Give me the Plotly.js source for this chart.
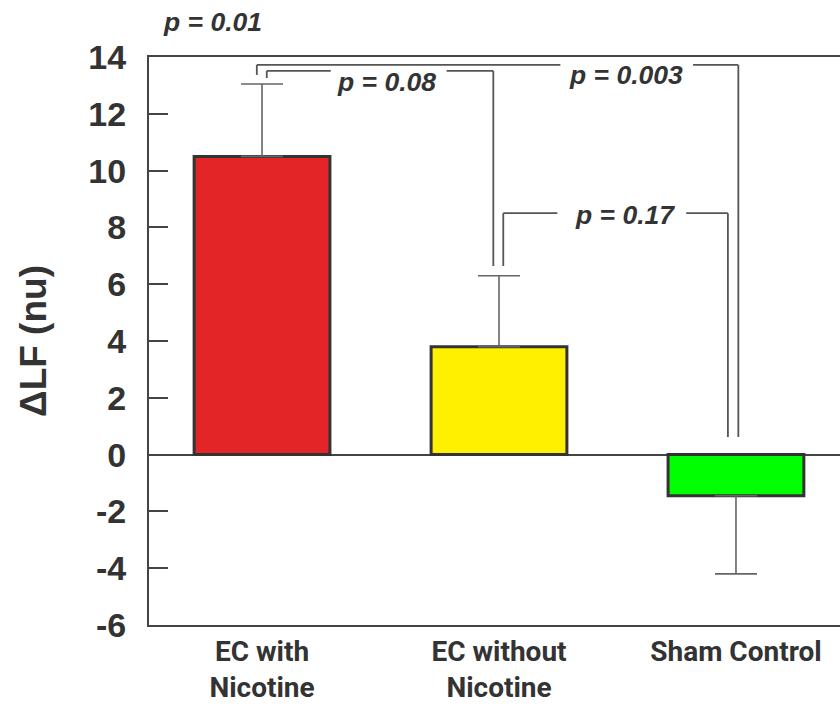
<!DOCTYPE html>
<html>
<head>
<meta charset="utf-8">
<script src="https://cdn.plot.ly/plotly-3.0.1.min.js"></script>
<style>html,body{margin:0;padding:0;background:#fff;}#chart{width:840px;height:704px;}</style>
</head>
<body>
<div id="chart"></div>
<script>
// ---- data ----
const categories = ["EC with<br>Nicotine", "EC without<br>Nicotine", "Sham Control"];
const values = [10.5, 3.8, -1.45];
const errors = [2.55, 2.5, 2.75];
const barColors = ["#E42528", "#FFF000", "#00FF00"];
const yTicks = [-6, -4, -2, 0, 2, 4, 6, 8, 10, 12, 14];
const pTop = "p = 0.01";
const comparisons = [
  {a: 0, b: 1, p: "p = 0.08"},
  {a: 0, b: 2, p: "p = 0.003"},
  {a: 1, b: 2, p: "p = 0.17"}
];

const xIdx = categories.map((_, i) => i);

const trace = {
  type: "bar",
  x: xIdx,
  y: values,
  width: 0.573,
  marker: {color: barColors, line: {color: "#333333", width: 3}},
  error_y: {
    type: "data",
    symmetric: false,
    array: values.map((v, i) => v >= 0 ? errors[i] : 0),
    arrayminus: values.map((v, i) => v < 0 ? errors[i] : 0),
    color: "#666666",
    thickness: 1.6,
    width: 21
  },
  hoverinfo: "skip"
};

// bracket geometry (layout, in data units)
const lineStyle = {color: "#555555", width: 1.8};
function seg(x0, y0, x1, y1) {
  return {type: "line", xref: "x", yref: "y", x0: x0, y0: y0, x1: x1, y1: y1, line: lineStyle, layer: "above"};
}
const shapes = [];
const annotations = [];
const textFont = {family: "Liberation Sans, Arial, sans-serif", size: 26.5, color: "#333333", weight: "bold", style: "italic"};

// comparison 0 vs 1 (p = 0.08)
(function () {
  const lvl = 13.51, xl = comparisons[0].a + 0.020, xr = comparisons[0].b - 0.024;
  shapes.push(seg(xl, 13.26, xl, lvl));
  shapes.push(seg(xl, lvl, 0.29, lvl));
  shapes.push(seg(0.779, lvl, xr, lvl));
  shapes.push(seg(xr, lvl, xr, 6.64));
  annotations.push({x: 0.526, y: 13.12, xref: "x", yref: "y", text: comparisons[0].p, showarrow: false, font: textFont, xanchor: "center", yanchor: "middle"});
})();
// comparison 0 vs 2 (p = 0.003)
(function () {
  const lvl = 13.72, xl = comparisons[1].a - 0.022, xr = comparisons[1].b + 0.01;
  shapes.push(seg(xl, 13.37, xl, lvl));
  shapes.push(seg(xl, lvl, 1.259, lvl));
  shapes.push(seg(1.819, lvl, xr, lvl));
  shapes.push(seg(xr, lvl, xr, 0.62));
  annotations.push({x: 1.538, y: 13.37, xref: "x", yref: "y", text: comparisons[1].p, showarrow: false, font: textFont, xanchor: "center", yanchor: "middle"});
})();
// comparison 1 vs 2 (p = 0.17)
(function () {
  const lvl = 8.5, xl = comparisons[2].a + 0.018, xr = comparisons[2].b - 0.034;
  shapes.push(seg(xl, 6.64, xl, lvl));
  shapes.push(seg(xl, lvl, 1.246, lvl));
  shapes.push(seg(1.790, lvl, xr, lvl));
  shapes.push(seg(xr, lvl, xr, 0.62));
  annotations.push({x: 1.53, y: 8.44, xref: "x", yref: "y", text: comparisons[2].p, showarrow: false, font: textFont, xanchor: "center", yanchor: "middle"});
})();
annotations.push({x: 0.092, y: 1.0616, xref: "paper", yref: "paper", text: pTop, showarrow: false, font: textFont, xanchor: "center", yanchor: "middle"});

const layout = {
  width: 840,
  height: 704,
  margin: {l: 149, r: 0, t: 57, b: 79, pad: 0},
  paper_bgcolor: "#ffffff",
  plot_bgcolor: "#ffffff",
  showlegend: false,
  xaxis: {
    range: [-0.477, 2.439],
    tickmode: "array",
    tickvals: xIdx,
    ticktext: categories,
    ticks: "",
    showgrid: false,
    zeroline: false,
    showline: true,
    mirror: true,
    linecolor: "#444444",
    linewidth: 2,
    automargin: false,
    ticklabelstandoff: 0,
    tickfont: {family: "Roboto, Liberation Sans, sans-serif", size: 28, color: "#333333", weight: "bold"}
  },
  yaxis: {
    range: [-6, 14],
    tickmode: "array",
    tickvals: yTicks,
    ticktext: yTicks.map(String),
    ticks: "inside",
    ticklen: 19,
    tickwidth: 2,
    tickcolor: "#444444",
    ticklabelstandoff: 14,
    showgrid: false,
    zeroline: true,
    zerolinecolor: "#444444",
    zerolinewidth: 2,
    showline: true,
    mirror: false,
    linecolor: "#444444",
    linewidth: 2,
    automargin: false,
    tickfont: {family: "Liberation Sans, Arial, sans-serif", size: 34, color: "#333333", weight: "bold"},
    title: {text: "ΔLF (nu)", standoff: 30, font: {family: "Liberation Sans, Arial, sans-serif", size: 37, color: "#333333", weight: "bold"}}
  },
  shapes: shapes,
  annotations: annotations
};

Plotly.newPlot("chart", [trace], layout, {displayModeBar: false, staticPlot: true});
</script>
</body>
</html>
